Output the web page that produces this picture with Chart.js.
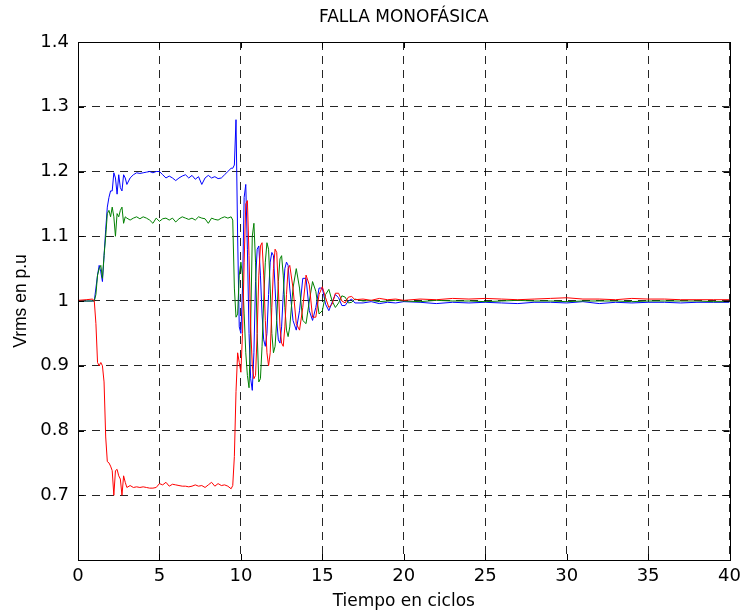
<!DOCTYPE html>
<html>
<head>
<meta charset="utf-8">
<script src="https://cdn.jsdelivr.net/npm/chart.js@4.4.1/dist/chart.umd.min.js"></script>
<style>
  html, body { margin: 0; padding: 0; background: #fff; }
  canvas { display: block; }
</style>
</head>
<body>
<canvas id="grafica" width="747" height="615"></canvas>
<script>
// tiempo en ciclos (malla compartida por las tres fases)
const ciclos = [
  0, 0.5, 0.9,
  1.0, 1.1, 1.2, 1.3, 1.4, 1.5, 1.6, 1.7, 1.8, 1.9,
  2.0, 2.1, 2.2, 2.3, 2.4, 2.5, 2.6, 2.7, 2.8, 2.9, 3.0,
  3.2, 3.4, 3.6, 3.8, 4.0, 4.2, 4.4, 4.6, 4.8, 5.0,
  5.2, 5.4, 5.6, 5.8, 6.0, 6.2, 6.4, 6.6, 6.8, 7.0,
  7.2, 7.4, 7.6, 7.8, 8.0, 8.2, 8.4, 8.6, 8.8, 9.0,
  9.2, 9.4,
  9.5, 9.6, 9.7, 9.8, 9.9, 10.0, 10.1, 10.2, 10.3, 10.4,
  10.5, 10.6, 10.7, 10.8, 10.9, 11.0, 11.1, 11.2, 11.3, 11.4,
  11.5, 11.6, 11.7, 11.8, 11.9, 12.0, 12.1, 12.2, 12.3, 12.4,
  12.5, 12.6, 12.7, 12.8, 12.9, 13.0,
  13.2, 13.4, 13.6, 13.8, 14.0, 14.2, 14.4, 14.6, 14.8, 15.0,
  15.2, 15.4, 15.6, 15.8, 16.0, 16.2, 16.4, 16.6, 16.8, 17.0,
  17.5, 18, 18.5, 19, 19.5, 20,
  21, 22, 23, 24, 25, 26, 27, 28, 29, 30,
  31, 32, 33, 34, 35, 36, 37, 38, 39, 40
];

// fase A (en falla) - rojo
const faseA = [
  1.001, 1.002, 1.003,
  1.000, 0.965, 0.905, 0.900, 0.905, 0.900, 0.875, 0.790, 0.752, 0.750,
  0.745, 0.738, 0.700, 0.738, 0.740, 0.730, 0.725, 0.700, 0.730, 0.720, 0.712,
  0.715, 0.712, 0.713, 0.712, 0.713, 0.712, 0.711, 0.711, 0.712, 0.718,
  0.716, 0.720, 0.714, 0.717, 0.716, 0.715, 0.714, 0.714, 0.713, 0.714,
  0.716, 0.714, 0.715, 0.712, 0.716, 0.720, 0.714, 0.718, 0.715, 0.716,
  0.714, 0.710,
  0.715, 0.760, 0.860, 0.920, 0.905, 0.890, 0.950, 1.060, 1.150, 1.155,
  1.070, 0.960, 0.900, 0.880, 0.885, 0.950, 1.040, 1.085, 1.090, 1.040,
  0.970, 0.920, 0.900, 0.920, 0.990, 1.050, 1.080, 1.075, 1.020, 0.960,
  0.935, 0.930, 0.960, 1.010, 1.050, 1.055,
  1.020, 0.965, 0.955, 0.990, 1.040, 1.025, 0.975, 0.975, 1.010, 1.022,
  1.005, 0.990, 0.995, 1.012, 1.012, 1.000, 0.997, 1.006, 1.007, 1.002,
  1.003, 1.001, 1.004, 1.002, 1.003, 1.001,
  1.003, 1.002, 1.004, 1.003, 1.004, 1.003, 1.002, 1.003, 1.004, 1.005,
  1.003, 1.003, 1.002, 1.004, 1.003, 1.003, 1.002, 1.002, 1.002, 1.002
];

// fase B - azul
const faseB = [
  1.000, 1.000, 1.000,
  1.000, 1.020, 1.040, 1.055, 1.045, 1.030, 1.070, 1.110, 1.145, 1.160,
  1.170, 1.170, 1.198, 1.190, 1.165, 1.195, 1.175, 1.170, 1.195, 1.190, 1.180,
  1.190, 1.195, 1.198, 1.197, 1.198, 1.199, 1.200, 1.198, 1.200, 1.200,
  1.195, 1.190, 1.193, 1.190, 1.186, 1.190, 1.193, 1.195, 1.190, 1.194,
  1.188, 1.192, 1.180, 1.190, 1.194, 1.190, 1.192, 1.189, 1.190, 1.195,
  1.200, 1.205,
  1.205, 1.210, 1.280, 1.100, 0.960, 0.950, 1.020, 1.160, 1.180, 1.080,
  0.950, 0.880, 0.862, 0.920, 1.030, 1.080, 1.085, 1.040, 0.980, 0.940,
  0.930, 0.950, 1.010, 1.060, 1.075, 1.070, 1.020, 0.970, 0.940, 0.935,
  0.960, 1.010, 1.050, 1.060, 1.055, 1.020,
  0.970, 0.955, 0.985, 1.035, 1.035, 0.985, 0.970, 0.990, 1.020, 1.020,
  0.995, 0.985, 0.998, 1.010, 1.005, 0.993, 0.993, 1.000, 1.003, 0.997,
  0.997, 0.999, 0.996, 0.998, 0.997, 0.999,
  0.998, 0.996, 0.998, 0.997, 0.998, 0.997, 0.996, 0.998, 0.998, 0.997,
  0.999, 0.996, 0.998, 0.997, 0.998, 0.998, 0.997, 0.998, 0.998, 0.998
];

// fase C - verde
const faseC = [
  1.000, 1.000, 1.000,
  1.000, 1.010, 1.040, 1.050, 1.055, 1.035, 1.070, 1.100, 1.135, 1.140,
  1.130, 1.145, 1.130, 1.100, 1.135, 1.130, 1.140, 1.145, 1.120, 1.130, 1.128,
  1.125, 1.128, 1.130, 1.127, 1.130, 1.128, 1.125, 1.120, 1.128, 1.123,
  1.127, 1.128, 1.125, 1.128, 1.122, 1.127, 1.130, 1.128, 1.126, 1.128,
  1.125, 1.130, 1.128, 1.127, 1.120, 1.128, 1.126, 1.125, 1.128, 1.130,
  1.128, 1.130,
  1.125, 1.020, 0.975, 0.980, 1.040, 1.060, 1.040, 0.980, 0.920, 0.885,
  0.866, 0.960, 1.100, 1.120, 1.060, 0.950, 0.875, 0.880, 0.930, 1.000,
  1.060, 1.090, 1.080, 1.020, 0.950, 0.920, 0.930, 0.970, 1.030, 1.065,
  1.070, 1.040, 0.990, 0.955, 0.945, 0.960,
  1.020, 1.050, 1.020, 0.970, 0.965, 1.000, 1.030, 1.015, 0.980, 0.985,
  1.010, 1.018, 1.000, 0.990, 0.997, 1.008, 1.006, 0.997, 0.998, 1.003,
  1.000, 1.001, 0.999, 1.000, 1.001, 1.000,
  0.999, 1.001, 1.000, 1.000, 0.999, 1.000, 1.001, 1.000, 1.000, 0.999,
  1.000, 1.000, 1.000, 0.999, 1.000, 1.000, 1.000, 1.000, 0.999, 0.999
];

const titulo = 'FALLA MONOFÁSICA';
const etiquetaX = 'Tiempo en ciclos';
const etiquetaY = 'Vrms en p.u';

const fuente = "'DejaVu Sans', Verdana, sans-serif";
const fuenteY = "'Liberation Sans', Arial, Helvetica, sans-serif";

function puntos(vals) {
  return ciclos.map((t, i) => ({ x: t, y: vals[i] }));
}

function serie(vals, color) {
  return {
    data: puntos(vals),
    borderColor: color,
    borderWidth: 1,
    pointRadius: 0,
    fill: false,
    tension: 0
  };
}

// caja, marcas hacia dentro y textos al estilo matlab
const marcoMatlab = {
  id: 'marcoMatlab',
  afterDraw(chart) {
    const { ctx, chartArea: { left, right, top, bottom } } = chart;
    const sx = chart.scales.x, sy = chart.scales.y;
    ctx.save();
    ctx.strokeStyle = '#000';
    ctx.lineWidth = 1;
    ctx.setLineDash([]);
    ctx.beginPath();
    sx.ticks.forEach(t => {
      const px = Math.round(sx.getPixelForValue(t.value)) + 0.5;
      ctx.moveTo(px, bottom); ctx.lineTo(px, bottom - 6);
      ctx.moveTo(px, top); ctx.lineTo(px, top + 6);
    });
    sy.ticks.forEach(t => {
      const py = Math.round(sy.getPixelForValue(t.value)) + 0.5;
      ctx.moveTo(left, py); ctx.lineTo(left + 6, py);
      ctx.moveTo(right, py); ctx.lineTo(right - 6, py);
    });
    ctx.stroke();
    ctx.strokeRect(Math.round(left) + 0.5, Math.round(top) + 0.5,
      Math.round(right - left), Math.round(bottom - top));

    ctx.fillStyle = '#000';
    ctx.textAlign = 'center';
    ctx.textBaseline = 'middle';
    const cx = (left + right) / 2;
    ctx.font = '17px ' + fuente;
    ctx.fillText(titulo, cx, 18);
    ctx.font = '17px ' + fuente;
    ctx.fillText(etiquetaX, cx, 602);
    ctx.translate(21, (top + bottom) / 2);
    ctx.rotate(-Math.PI / 2);
    ctx.font = '17.5px ' + fuenteY;
    ctx.fillText(etiquetaY, 0, 0);
    ctx.restore();
  }
};

const rejilla = {
  color: 'rgba(0,0,0,0.85)',
  lineWidth: 1,
  drawTicks: false
};

new Chart(document.getElementById('grafica'), {
  type: 'line',
  data: {
    datasets: [
      serie(faseA, 'rgb(255,0,0)'),
      serie(faseC, 'rgb(0,128,0)'),
      serie(faseB, 'rgb(0,0,255)')
    ]
  },
  options: {
    responsive: false,
    animation: false,
    layout: { padding: { left: 0, right: 12, top: 42, bottom: 0 } },
    plugins: {
      legend: { display: false },
      tooltip: { enabled: false }
    },
    scales: {
      x: {
        type: 'linear',
        min: 0,
        max: 40,
        grid: rejilla,
        border: { display: false, dash: [8, 6] },
        ticks: {
          stepSize: 5,
          padding: 6,
          maxRotation: 0,
          color: '#000',
          font: { family: fuente, size: 18 }
        },
        afterFit(s) { s.height = 55; }
      },
      y: {
        min: 0.6,
        max: 1.4,
        grid: rejilla,
        border: { display: false, dash: [8, 6] },
        ticks: {
          stepSize: 0.1,
          padding: 9,
          color: '#000',
          font: { family: fuente, size: 18 },
          callback: v => v < 0.65 ? '' : String(Number(v.toFixed(1)))
        },
        afterFit(s) { s.width = 78; }
      }
    }
  },
  plugins: [marcoMatlab]
});
</script>
</body>
</html>
